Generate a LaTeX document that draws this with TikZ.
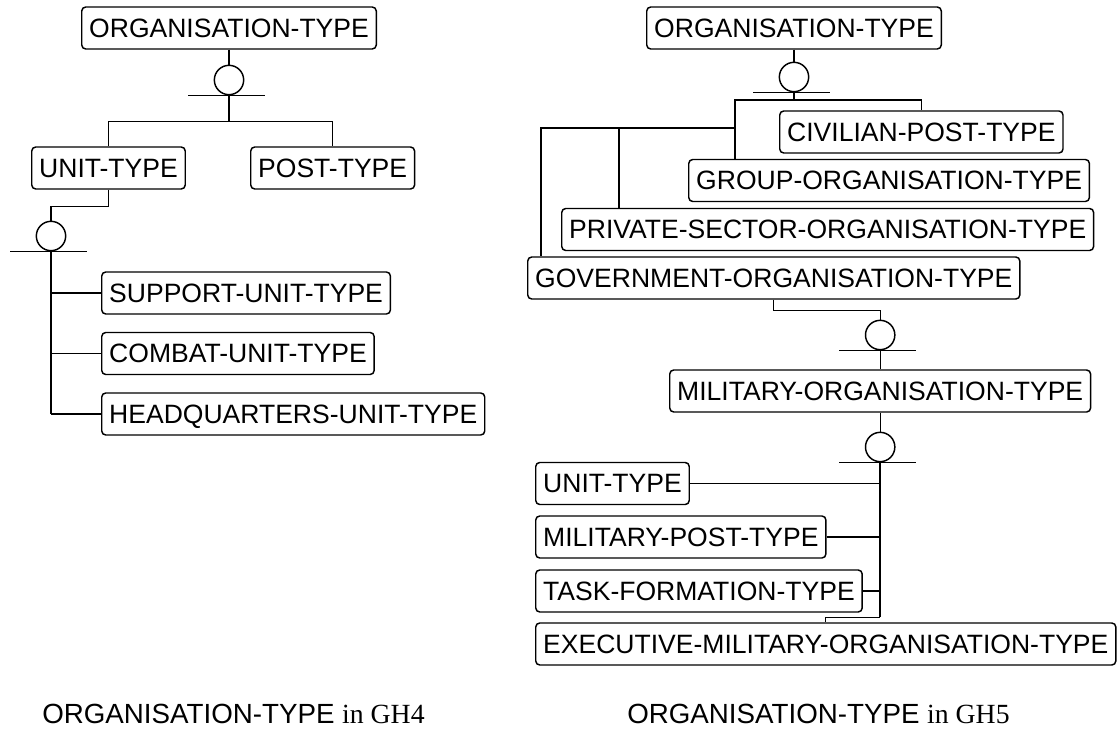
\documentclass[tikz,border=0pt]{standalone}
\usepackage{fontspec}
\setmainfont{Liberation Sans}
\newfontfamily\serifcap{Liberation Serif}
\begin{document}
\begin{tikzpicture}[x=0.75pt,y=-0.75pt,
  entity/.style={draw, rounded corners=3pt, line width=1.1pt, anchor=west,
    inner xsep=5.6pt, inner ysep=0pt, minimum height=31.5pt,
    text height=14pt, text depth=0pt, font=\fontsize{19.9pt}{22pt}\selectfont},
  junction/.style={draw, circle, line width=1.1pt, minimum size=22pt, inner sep=0pt},
  link/.style={line width=1pt},
  trunk/.style={line width=1.6pt},
  bar/.style={line width=1.1pt},
  caption/.style={anchor=base west, inner sep=0pt, font=\fontsize{20.8pt}{24pt}\selectfont}]
\useasboundingbox (0,0) rectangle (1118,731);

% ---------- GH4 ----------
\node[entity] (o1) at (81,28) {ORGANISATION-TYPE};
\node[entity] (unit1) at (31,168) {UNIT-TYPE};
\node[entity] (post1) at (250,168) {POST-TYPE};
\node[entity] (sup) at (101,293) {SUPPORT-UNIT-TYPE};
\node[entity] (com) at (101,353.5) {COMBAT-UNIT-TYPE};
\node[entity] (hq) at (101,414) {HEADQUARTERS-UNIT-TYPE};
\node[junction] (c1) at (o1.south |- 0,80) {};
\node[junction] (c2) at (51,236) {};

\draw[bar] ([xshift=-30.75pt]c1.south) -- ([xshift=27pt]c1.south);
\draw[bar] ([xshift=-30.75pt]c2.south) -- ([xshift=27pt]c2.south);

\draw[link] (o1.south) -- (c1.north);
\draw[trunk] (c1.south) -- ++(0,26) coordinate (j1);
\draw[link] (unit1.north) |- (j1) -| (post1.north);
\draw[link] (unit1.south) -- ++(0,17) -| (c2.north);
\draw[trunk] (c2.south) -- (c2.south |- hq.west) coordinate (j2);
\draw[link] (c2.south |- sup.west) -- (sup.west);
\draw[link] (c2.south |- com.west) -- (com.west);
\draw[link] (j2) -- (hq.west);

% ---------- GH5 ----------
\node[entity] (o2) at (646,28) {ORGANISATION-TYPE};
\node[entity] (civ) at (779,132) {CIVILIAN-POST-TYPE};
\node[entity] (grp) at (688,180.5) {GROUP-ORGANISATION-TYPE};
\node[entity] (prv) at (561,229.5) {PRIVATE-SECTOR-ORGANISATION-TYPE};
\node[entity] (gov) at (527,278) {GOVERNMENT-ORGANISATION-TYPE};
\node[entity] (mil) at (669,391) {MILITARY-ORGANISATION-TYPE};
\node[entity] (unit2) at (535,483.5) {UNIT-TYPE};
\node[entity] (mpost) at (535,537) {MILITARY-POST-TYPE};
\node[entity] (task) at (535,591) {TASK-FORMATION-TYPE};
\node[entity] (exec) at (535,644) {EXECUTIVE-MILITARY-ORGANISATION-TYPE};
\node[junction] (c3) at (o2.south |- 0,77) {};
\node[junction] (c4) at (mil.north |- 0,335) {};
\node[junction] (c5) at (mil.south |- 0,447) {};

\draw[bar] ([xshift=-30.75pt]c3.south) -- ([xshift=27pt]c3.south);
\draw[bar] ([xshift=-30.75pt]c4.south) -- ([xshift=27pt]c4.south);
\draw[bar] ([xshift=-30.75pt]c5.south) -- ([xshift=27pt]c5.south);

\coordinate (h1) at (735,100);
\coordinate (h2) at (541,128);
\coordinate (h3) at (619,128);

\draw[link] (o2.south) -- (c3.north);
\draw[link] (c3.south) -- (c3.south |- h1) coordinate (j3);
\draw[link] (j3) -| (civ.north);
\draw[link] (j3) -- (h1) -- (grp.north -| h1);
\draw[link] (h1 |- h2) -- (h2) -- (gov.north -| h2);
\draw[link] (h3) -- (prv.north -| h3);
\draw[link] (gov.south) -- ++(0,11) -| (c4.north);
\draw[link] (c4.south) -- (mil.north);
\draw[link] (mil.south) -- (c5.north);
\draw[trunk] (c5.south) -- ++(0,155) coordinate (j5);
\draw[link] (unit2.east) -- (unit2.east -| j5);
\draw[link] (mpost.east) -- (mpost.east -| j5);
\draw[link] (task.east) -- (task.east -| j5);
\draw[link] (j5) -| (exec.north);

% ---------- captions ----------
\node[caption] (cap1) at (42,723) {ORGANISATION-TYPE {\serifcap in GH4}};
\node[caption] (cap2) at (627,723) {ORGANISATION-TYPE {\serifcap in GH5}};
\end{tikzpicture}
\end{document}
